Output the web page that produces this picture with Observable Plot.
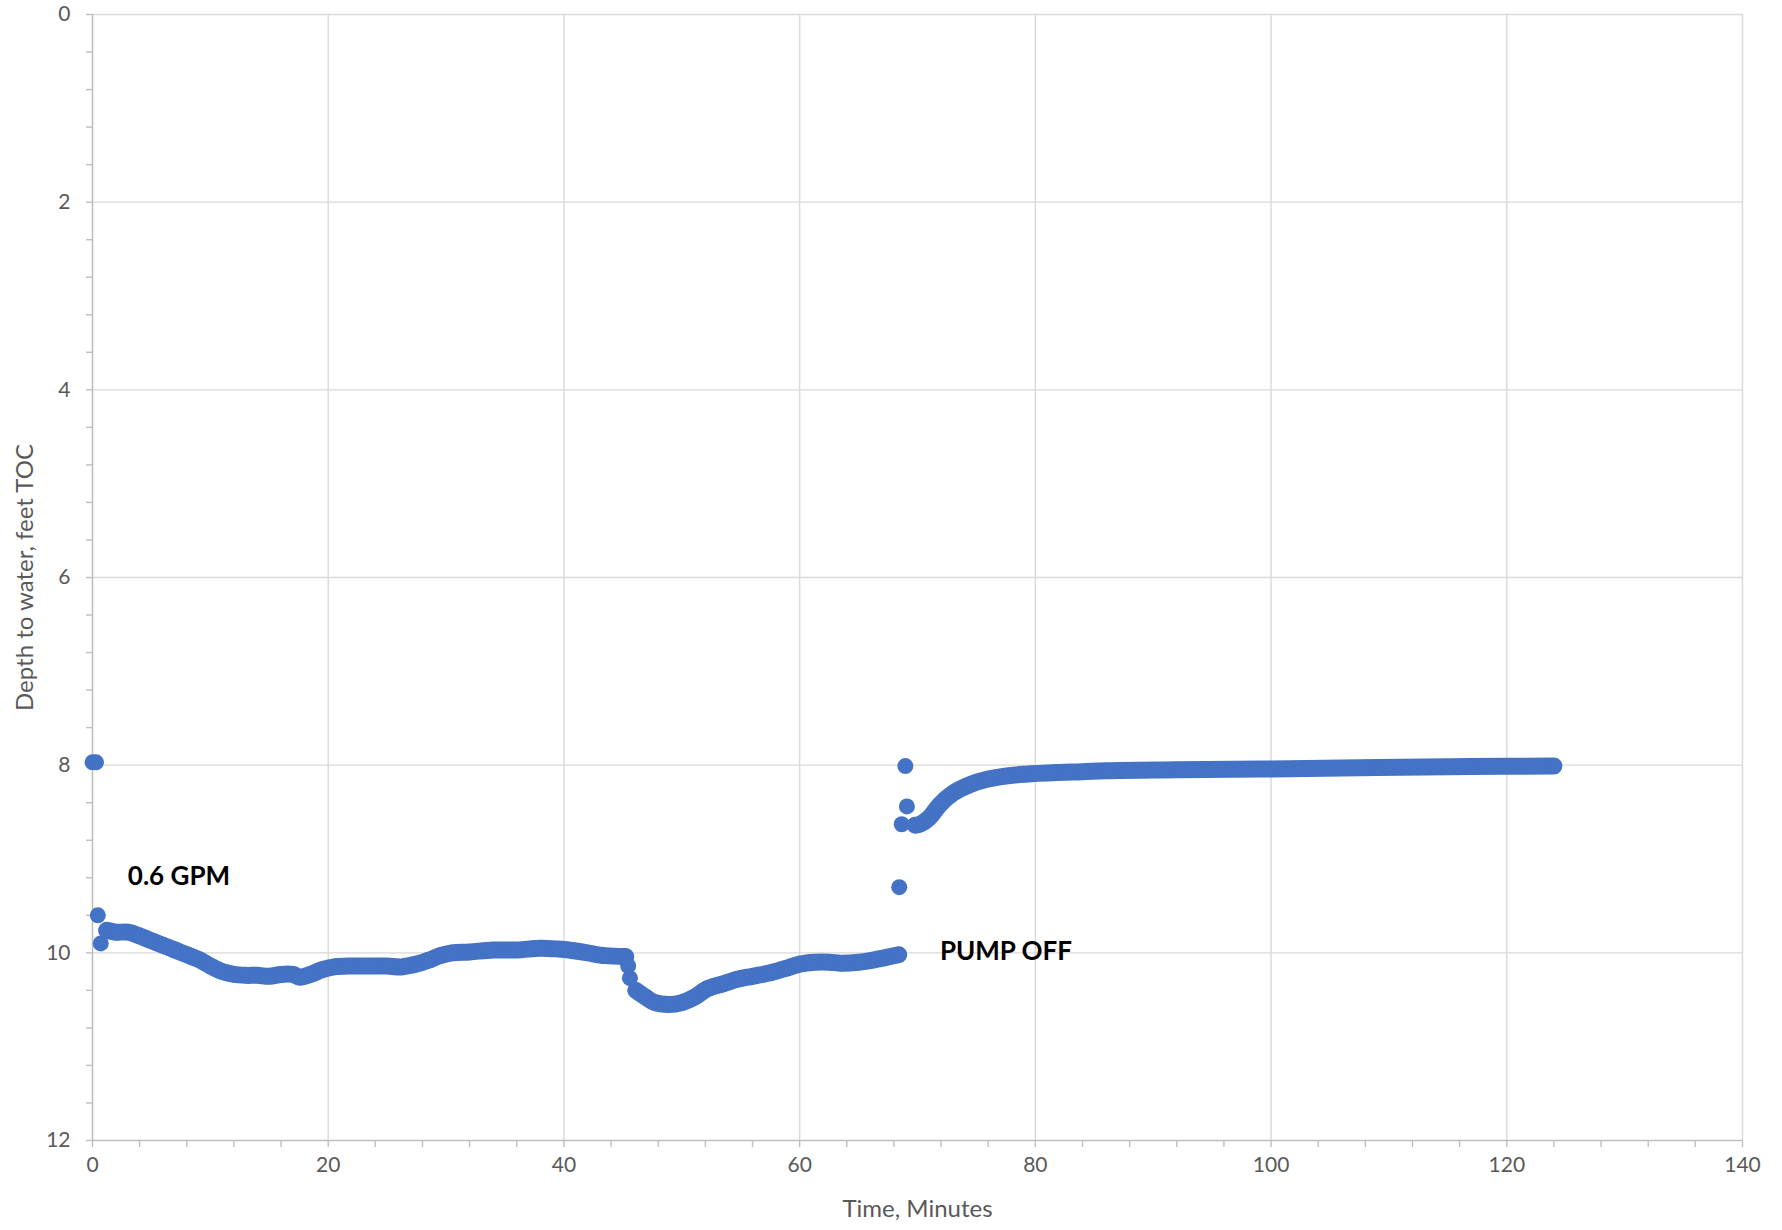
<!DOCTYPE html>
<html>
<head>
<meta charset="utf-8">
<script src="https://cdn.jsdelivr.net/npm/d3@7"></script>
<script src="https://cdn.jsdelivr.net/npm/@observablehq/plot@0.6"></script>
<style>
  html, body { margin: 0; padding: 0; background: #ffffff; }
  #chart svg { display: block; }
</style>
</head>
<body>
<div id="chart"></div>
<script>
// ---- Data ----
// Isolated readings at pump start
const startTime  = [0, 0.3, 0.45, 0.7];
const startDepth = [7.97, 7.97, 9.60, 9.90];

// Pumping, first stretch
const pumpTime  = [1.2, 2.0, 3.0, 4.0, 5.0, 6.0, 7.0, 8.0, 9.0, 10.0, 11.0, 12.0, 13.0, 14.0, 15.0, 16.0, 17.0, 17.6, 18.5, 19.5, 20.5, 22.0, 24.0, 25.0, 26.2, 27.5, 28.5, 29.5, 30.5, 32.0, 34.0, 36.0, 38.0, 39.5, 41.0, 42.0, 43.5, 45.25];
const pumpDepth = [9.76, 9.78, 9.78, 9.82, 9.87, 9.92, 9.97, 10.02, 10.07, 10.14, 10.20, 10.23, 10.24, 10.24, 10.25, 10.23, 10.23, 10.26, 10.23, 10.18, 10.15, 10.14, 10.14, 10.14, 10.15, 10.12, 10.08, 10.03, 10.00, 9.99, 9.97, 9.97, 9.95, 9.96, 9.98, 10.00, 10.03, 10.04];

// Step drop near 45 minutes
const dropTime  = [45.45, 45.6];
const dropDepth = [10.14, 10.27];

// Pumping, second stretch
const drawTime  = [46.1, 46.9, 47.7, 48.9, 50.0, 51.1, 52.2, 53.5, 54.8, 56.0, 57.6, 59.0, 60.0, 61.3, 62.5, 63.5, 65.0, 66.5, 68.4];
const drawDepth = [10.40, 10.47, 10.53, 10.55, 10.53, 10.47, 10.38, 10.33, 10.28, 10.25, 10.21, 10.16, 10.12, 10.10, 10.10, 10.11, 10.10, 10.07, 10.02];

// Readings right after the pump was switched off
const offTime  = [68.45, 68.66, 68.97, 69.1];
const offDepth = [9.30, 8.63, 8.01, 8.44];

// Recovery
const recTime  = [69.8, 70.2, 71.0, 71.9, 73.0, 74.4, 75.9, 78.7, 81.5, 84.0, 86.0, 92.0, 100.0, 109.0, 117.0, 124.0];
const recDepth = [8.64, 8.63, 8.56, 8.42, 8.30, 8.21, 8.15, 8.10, 8.08, 8.07, 8.06, 8.05, 8.04, 8.025, 8.015, 8.01];

// Axis ticks
const xTicks = [0, 20, 40, 60, 80, 100, 120, 140];
const yTicks = [0, 2, 4, 6, 8, 10, 12];
const xMinor = d3.range(0, 36).map(i => i * 4);
const yMinor = d3.range(0, 31).map(i => +(i * 0.4).toFixed(1));

// Annotations
const noteText = ["0.6 GPM", "PUMP OFF"];
const noteX = [3.0, 71.9];
const noteY = [9.19, 9.99];

const xLabel = "Time, Minutes";
const yLabel = "Depth to water, feet TOC";

// ---- Build rows ----
const mk = (ts, ds, seg) => ts.map((t, i) => ({t, d: ds[i], seg}));
const lineRows = [
  ...mk(pumpTime, pumpDepth, "pump"),
  ...mk(drawTime, drawDepth, "draw"),
  ...mk(recTime, recDepth, "rec")
];
const dotRows = [
  ...mk(startTime, startDepth, "start"),
  ...lineRows,
  ...mk(dropTime, dropDepth, "drop"),
  ...mk(offTime, offDepth, "off")
];
const notes = noteText.map((s, i) => ({s, x: noteX[i], y: noteY[i]}));

const BLUE = "#4472C4";
const GRID = "#d9d9d9";
const AXIS = "#bfbfbf";
const LABEL = "#595959";

const chart = Plot.plot({
  width: 1782,
  height: 1230,
  marginLeft: 92,
  marginRight: 40,
  marginTop: 14,
  marginBottom: 90,
  style: {fontFamily: "Lato, 'Open Sans', sans-serif", background: "#ffffff"},
  x: {domain: [0, 140]},
  y: {domain: [0, 12], reverse: true},
  marks: [
    Plot.gridX(xTicks.slice(1), {stroke: GRID, strokeOpacity: 1, strokeWidth: 1.4}),
    Plot.gridY(yTicks.slice(0, -1), {stroke: GRID, strokeOpacity: 1, strokeWidth: 1.4}),
    Plot.axisX(xMinor, {tickSize: 7, stroke: AXIS, strokeWidth: 1.4, text: null, label: null}),
    Plot.axisY(yMinor, {tickSize: 6, stroke: AXIS, strokeWidth: 1.4, text: null, label: null}),
    Plot.axisX(xTicks, {tickSize: 0, tickPadding: 17, fontSize: 21, fill: LABEL, label: null, tickFormat: d => String(d)}),
    Plot.axisY(yTicks, {tickSize: 0, tickPadding: 22, fontSize: 21, fill: LABEL, label: null, tickFormat: d => String(d)}),
    Plot.ruleX([0], {stroke: AXIS, strokeWidth: 1.6}),
    Plot.ruleY([12], {stroke: AXIS, strokeWidth: 1.6}),
    Plot.line(lineRows, {x: "t", y: "d", z: "seg", stroke: BLUE, strokeWidth: 17, strokeLinecap: "round", strokeLinejoin: "round", curve: "catmull-rom"}),
    Plot.dot(dotRows, {x: "t", y: "d", r: 8, fill: BLUE, stroke: null}),
    Plot.text(notes, {x: "x", y: "y", text: "s", textAnchor: "start", fontSize: 26, fontWeight: "bold", fill: "#000000"}),
    Plot.text([xLabel], {frameAnchor: "bottom", textAnchor: "middle", lineAnchor: "middle", dy: 69, fontSize: 24, fill: LABEL}),
    Plot.text([yLabel], {frameAnchor: "left", textAnchor: "middle", lineAnchor: "middle", rotate: -90, dx: -67, fontSize: 24, fill: LABEL})
  ]
});
document.getElementById("chart").appendChild(chart);
</script>
</body>
</html>
